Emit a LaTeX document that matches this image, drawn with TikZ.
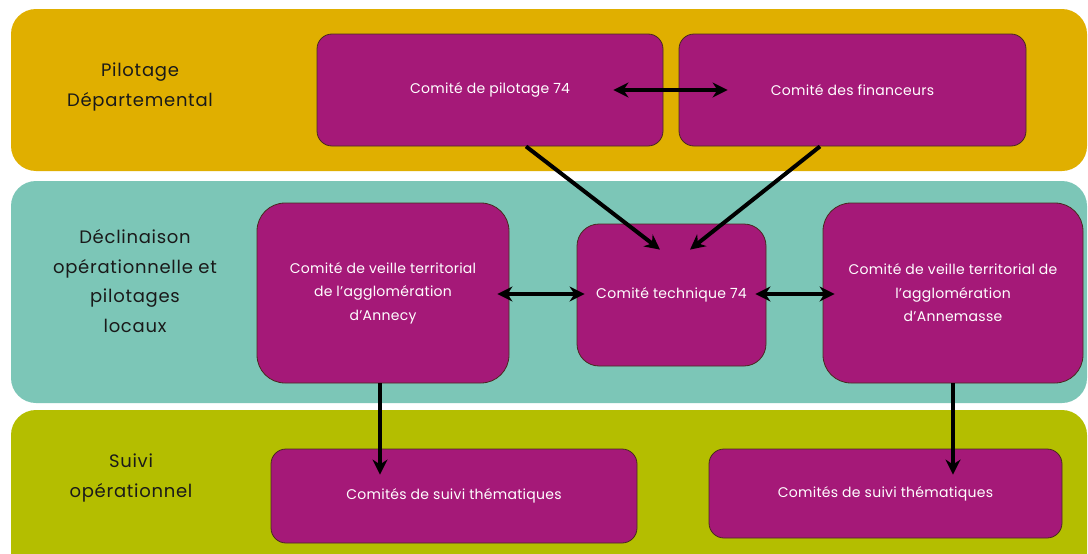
\documentclass[tikz,border=0pt]{standalone}
\usepackage{fontspec}
\setmainfont{Poppins}
\newfontfamily\labfont[LetterSpace=4]{Poppins}
\newfontfamily\boxfont[LetterSpace=2]{Poppins}
\usetikzlibrary{arrows.meta,calc}
\definecolor{gold}{HTML}{E0AF00}
\definecolor{teal2}{HTML}{7CC6B7}
\definecolor{olive2}{HTML}{B4BE00}
\definecolor{mag}{HTML}{A51978}
\definecolor{edge}{HTML}{4A2A20}
\definecolor{labtext}{HTML}{1A1A1A}
\tikzset{
  band/.style={rounded corners=25pt},
  lab/.style={align=center, text=labtext, font=\labfont\fontsize{18}{29.5}\selectfont},
  cbox/.style={draw=edge, line width=0.8pt, fill=mag, rounded corners=#1, text=white, align=center,
    inner sep=0pt, font=\boxfont\fontsize{14}{23.5}\selectfont},
  cbox/.default=18pt,
  conn/.style={line width=4pt, -{Stealth[length=15pt,width=15pt]}},
  dconn/.style={line width=4pt, {Stealth[length=15pt,width=15pt]}-{Stealth[length=15pt,width=15pt]}},
}
\begin{document}
\begin{tikzpicture}[x=1pt,y=-1pt]
\useasboundingbox (0,0) rectangle (1088,554);
\clip (0,0) rectangle (1088,554);
\fill[white] (0,0) rectangle (1088,554);
% bands
\fill[gold, band] (11,9) rectangle (1087,171);
\fill[teal2, band] (11,181) rectangle (1087,403);
\fill[olive2, band] (11,410) rectangle (1087,580);
% labels
\node[lab] (l1) at (140,87) {Pilotage\\Départemental};
\node[lab] (l2) at (135,281) {Déclinaison\\opérationnelle et\\pilotages\\locaux};
\node[lab] (l3) at (131,478) {Suivi\\opérationnel};
% boxes
\node[cbox=15pt, minimum width=346pt, minimum height=112pt] (pil) at (490,90) {Comité de pilotage 74};
\node[cbox=15pt, minimum width=347pt, minimum height=112pt] (fin) at (852.5,90) {Comité des financeurs};
\node[cbox=28pt, minimum width=252pt, minimum height=180pt] (ann) at (383,293) {Comité de veille territorial\\de l’agglomération\\d’Annecy};
\node[cbox=22pt, minimum width=189pt, minimum height=142pt] (tech) at (671.5,295) {Comité technique 74};
\node[cbox=28pt, minimum width=260pt, minimum height=180pt] (anm) at (953,293) {Comité de veille territorial de\\l’agglomération\\d’Annemasse};
\node[cbox=15pt, minimum width=366pt, minimum height=94pt] (st1) at (454,496) {Comités de suivi thématiques};
\node[cbox=15pt, minimum width=353pt, minimum height=89pt] (st2) at (885.5,493.5) {Comités de suivi thématiques};
% connectors
\draw[dconn] ([xshift=-50pt]pil.east) -- ([xshift=49pt]fin.west);
\draw[conn] ([xshift=36pt]pil.south) -- ($(tech.north)+(-11.5,26)$);
\draw[conn] ([xshift=-32.5pt]fin.south) -- ($(tech.north)+(18.5,26)$);
\draw[dconn] ([xshift=-12pt,yshift=-1pt]ann.east) -- ([xshift=8pt,yshift=1pt]tech.west);
\draw[dconn] ([xshift=-11pt,yshift=1pt]tech.east) -- ([xshift=12pt,yshift=-1pt]anm.west);
\draw[conn] ([xshift=-3pt]ann.south) -- ($(ann.south |- st1.north)+(-3,26)$);
\draw[conn] (anm.south) -- ($(anm.south |- st2.north)+(0,26)$);
\end{tikzpicture}
\end{document}
